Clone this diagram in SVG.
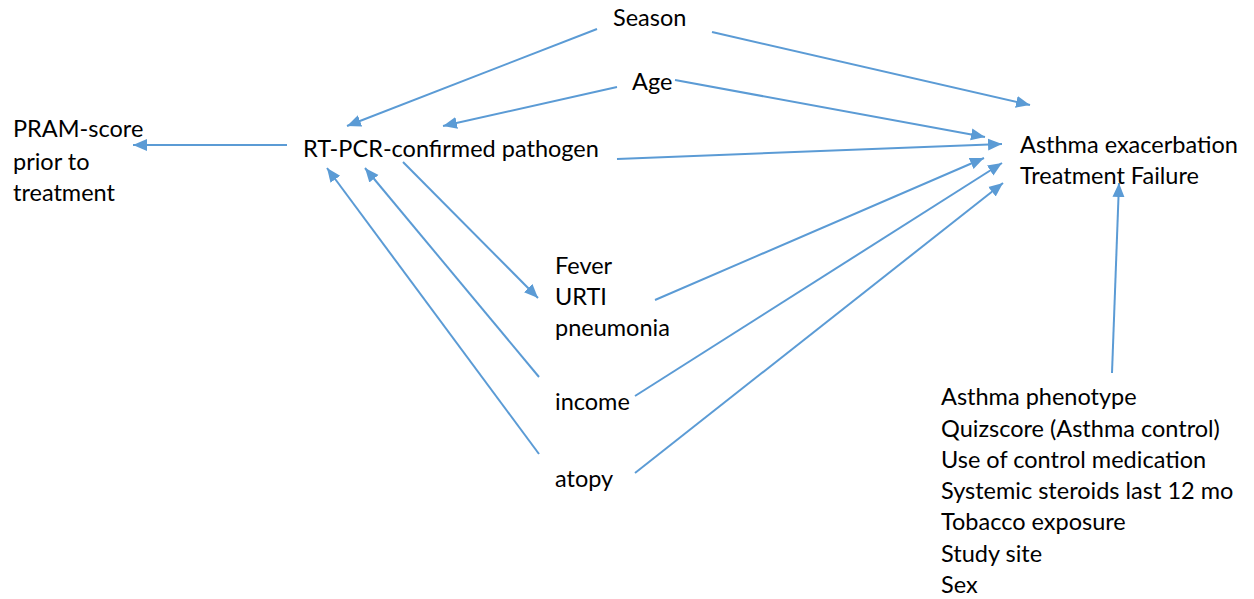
<svg xmlns="http://www.w3.org/2000/svg" width="1254" height="599" viewBox="0 0 1254 599">
<style>
text{font-family:Lato,"Liberation Sans",sans-serif;font-size:23.5px;fill:#000}
.c line{stroke:#5B9BD5;stroke-width:2;fill:none}
.c .a{marker-end:url(#ah)}
</style>
<defs>
<marker id="ah" markerUnits="userSpaceOnUse" markerWidth="16" markerHeight="14" refX="14" refY="6" orient="auto" viewBox="0 0 16 12">
<path d="M0,0 L14,6 L0,12 Z" fill="#5B9BD5"/>
</marker>
</defs>
<rect width="1254" height="599" fill="#fff"/>
<g class="c" id="connectors">
<line class="a" x1="597" y1="29" x2="347" y2="126"/>
<line class="a" x1="712" y1="32" x2="1030" y2="105"/>
<line class="a" x1="617" y1="87" x2="443" y2="126"/>
<line class="a" x1="675" y1="80" x2="985" y2="137"/>
<line class="a" x1="287" y1="145" x2="133" y2="145"/>
<line class="a" x1="617" y1="159" x2="1002" y2="144"/>
<line class="a" x1="403" y1="162" x2="538" y2="298"/>
<line class="a" x1="655" y1="300" x2="984" y2="158"/>
<line class="a" x1="635" y1="396" x2="1002" y2="163"/>
<line class="a" x1="635" y1="473" x2="1003" y2="183"/>
<line class="a" x1="539" y1="377" x2="365" y2="168"/>
<line class="a" x1="539" y1="454" x2="327" y2="168"/>
<line class="a" x1="1112" y1="373" x2="1119" y2="183"/>
</g>
<g id="season"><text x="613" y="26">Season</text></g>
<g id="age"><text x="632" y="90">Age</text></g>
<g id="pram"><text x="13" y="137">PRAM-score</text><text x="13" y="170">prior to</text><text x="13" y="201">treatment</text></g>
<g id="pathogen"><text x="303" y="157">RT-PCR-confirmed pathogen</text></g>
<g id="outcome"><text x="1020" y="153">Asthma exacerbation</text><text x="1020" y="184">Treatment Failure</text></g>
<g id="symptoms"><text x="555" y="274">Fever</text><text x="555" y="305">URTI</text><text x="555" y="336">pneumonia</text></g>
<g id="income"><text x="555" y="410">income</text></g>
<g id="atopy"><text x="555" y="487">atopy</text></g>
<g id="covariates">
<text x="941" y="405">Asthma phenotype</text>
<text x="941" y="437">Quizscore (Asthma control)</text>
<text x="941" y="468">Use of control medication</text>
<text x="941" y="499">Systemic steroids last 12 mo</text>
<text x="941" y="530">Tobacco exposure</text>
<text x="941" y="562">Study site</text>
<text x="941" y="593">Sex</text>
</g>
</svg>
